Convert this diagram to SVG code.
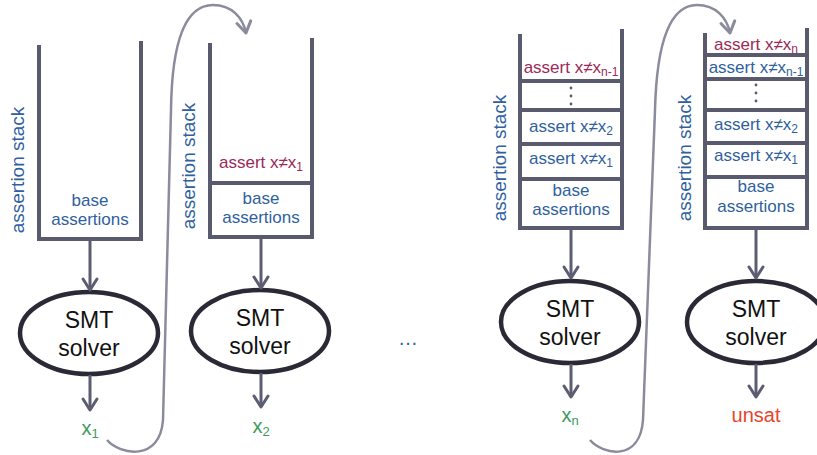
<svg xmlns="http://www.w3.org/2000/svg" width="817" height="455" viewBox="0 0 817 455">
<defs>
<marker id="chev" markerUnits="userSpaceOnUse" viewBox="-15 -15 30 30" markerWidth="30" markerHeight="30" refX="0" refY="0" orient="auto" overflow="visible">
<path d="M-11,-7 L0,0 L-11,7" fill="none" stroke="#5c5d72" stroke-width="3" stroke-linecap="round" stroke-linejoin="round"/>
</marker>
<marker id="chev2" markerUnits="userSpaceOnUse" viewBox="-15 -15 30 30" markerWidth="30" markerHeight="30" refX="0" refY="0" orient="auto" overflow="visible">
<path d="M-11,-7 L0,0 L-11,7" fill="none" stroke="#8a8b9c" stroke-width="3" stroke-linecap="round" stroke-linejoin="round"/>
</marker>
</defs>
<style>
text{font-family:"Liberation Sans",Arial,sans-serif}
.wall{fill:none;stroke:#595a6e;stroke-width:4}
.div{stroke:#595a6e;stroke-width:4}
.lbl{fill:#2f5f9e;font-size:19px}
.blue{fill:#2f5f9e;font-size:17px;text-anchor:middle}
.pink{fill:#9b2a58;font-size:17px;text-anchor:middle}
.sub{font-size:12px}
.ell{fill:#fff;stroke:#2a2a36;stroke-width:4.5}
.smt{fill:#111;font-size:23px;text-anchor:middle}
.arr{stroke:#5c5d72;stroke-width:3;fill:none;marker-end:url(#chev)}
.curve{stroke:#8a8b9c;stroke-width:2.5;fill:none;marker-end:url(#chev2)}
.green{fill:#3d9a5c;font-size:20px;text-anchor:middle}
.gsub{font-size:13px}
.dot{fill:#5a5a6a}
</style>

<g id="stack1">
<path class="wall" d="M39,45 L39,239 L141,239 L141,41"/>
<text class="lbl" transform="translate(24,170) rotate(-90)" text-anchor="middle">assertion stack</text>
<text class="blue" x="90" y="206">base</text>
<text class="blue" x="90" y="225">assertions</text>
</g>

<g id="stack2">
<path class="wall" d="M210,43 L210,237 L312,237 L312,38"/>
<line class="div" x1="210" y1="183" x2="312" y2="183"/>
<text class="lbl" transform="translate(195,166) rotate(-90)" text-anchor="middle">assertion stack</text>
<text class="pink" x="261" y="168">assert x≠x<tspan class="sub" dy="3">1</tspan></text>
<text class="blue" x="261" y="204">base</text>
<text class="blue" x="261" y="223">assertions</text>
</g>

<g id="stack3">
<path class="wall" d="M520,34 L520,228 L622,228 L622,29"/>
<line class="div" x1="520" y1="81" x2="622" y2="81"/>
<line class="div" x1="520" y1="110" x2="622" y2="110"/>
<line class="div" x1="520" y1="144" x2="622" y2="144"/>
<line class="div" x1="520" y1="179" x2="622" y2="179"/>
<text class="lbl" transform="translate(506,158) rotate(-90)" text-anchor="middle">assertion stack</text>
<text class="pink" x="571" y="73">assert x≠x<tspan class="sub" dy="3">n-1</tspan></text>
<circle class="dot" cx="571" cy="88" r="1.4"/>
<circle class="dot" cx="571" cy="96" r="1.4"/>
<circle class="dot" cx="571" cy="104" r="1.4"/>
<text class="blue" x="571" y="132">assert x≠x<tspan class="sub" dy="3">2</tspan></text>
<text class="blue" x="571" y="164">assert x≠x<tspan class="sub" dy="3">1</tspan></text>
<text class="blue" x="571" y="196">base</text>
<text class="blue" x="571" y="215">assertions</text>
</g>

<g id="stack4">
<path class="wall" d="M705,33 L705,228 L807,228 L807,28"/>
<line class="div" x1="705" y1="55" x2="807" y2="55"/>
<line class="div" x1="705" y1="79" x2="807" y2="79"/>
<line class="div" x1="705" y1="110" x2="807" y2="110"/>
<line class="div" x1="705" y1="143" x2="807" y2="143"/>
<line class="div" x1="705" y1="177" x2="807" y2="177"/>
<text class="lbl" transform="translate(691,158) rotate(-90)" text-anchor="middle">assertion stack</text>
<text class="pink" x="756" y="50">assert x≠x<tspan class="sub" dy="3">n</tspan></text>
<text class="blue" x="756" y="73">assert x≠x<tspan class="sub" dy="3">n-1</tspan></text>
<circle class="dot" cx="756" cy="85" r="1.4"/>
<circle class="dot" cx="756" cy="93" r="1.4"/>
<circle class="dot" cx="756" cy="101" r="1.4"/>
<text class="blue" x="756" y="130">assert x≠x<tspan class="sub" dy="3">2</tspan></text>
<text class="blue" x="756" y="161">assert x≠x<tspan class="sub" dy="3">1</tspan></text>
<text class="blue" x="756" y="192">base</text>
<text class="blue" x="756" y="212">assertions</text>
</g>

<g id="solver1">
<ellipse class="ell" cx="89" cy="333" rx="69" ry="41"/>
<text class="smt" x="89" y="328">SMT</text>
<text class="smt" x="89" y="356">solver</text>
</g>
<g id="solver2">
<ellipse class="ell" cx="260" cy="331" rx="69" ry="41"/>
<text class="smt" x="260" y="326">SMT</text>
<text class="smt" x="260" y="354">solver</text>
</g>
<g id="solver3">
<ellipse class="ell" cx="570" cy="322" rx="69" ry="41"/>
<text class="smt" x="570" y="317">SMT</text>
<text class="smt" x="570" y="345">solver</text>
</g>
<g id="solver4">
<ellipse class="ell" cx="756" cy="322" rx="69" ry="41"/>
<text class="smt" x="756" y="317">SMT</text>
<text class="smt" x="756" y="345">solver</text>
</g>

<g id="out1"><text class="green" x="90" y="435">x<tspan class="gsub" dy="3">1</tspan></text></g>
<g id="out2"><text class="green" x="261" y="433">x<tspan class="gsub" dy="3">2</tspan></text></g>
<g id="out3"><text class="green" x="570" y="422">x<tspan class="gsub" dy="3">n</tspan></text></g>
<g id="out4"><text x="756" y="422" fill="#e8442c" font-size="20" text-anchor="middle">unsat</text></g>
<g id="ellipsis"><text x="408" y="345" fill="#2f5f9e" font-size="20" text-anchor="middle">…</text></g>

<g id="connectors">
<line class="arr" x1="90" y1="241" x2="90" y2="290"/>
<line class="arr" x1="90" y1="375" x2="90" y2="410"/>
<line class="arr" x1="261" y1="239" x2="261" y2="288"/>
<line class="arr" x1="261" y1="373" x2="261" y2="407"/>
<line class="arr" x1="571" y1="230" x2="571" y2="278"/>
<line class="arr" x1="571" y1="364" x2="571" y2="397"/>
<line class="arr" x1="756" y1="230" x2="756" y2="278"/>
<line class="arr" x1="756" y1="364" x2="756" y2="397"/>
<path class="curve" d="M107,440 C120,455 160,462 163,420 L171,110 C172,30 190,5 213,5 C232,5 243,18 246,33"/>
<path class="curve" d="M590,440 C603,455 640,462 643,420 L655,110 C657,30 675,5 697,5 C716,5 727,18 730,33"/>
</g>
</svg>
